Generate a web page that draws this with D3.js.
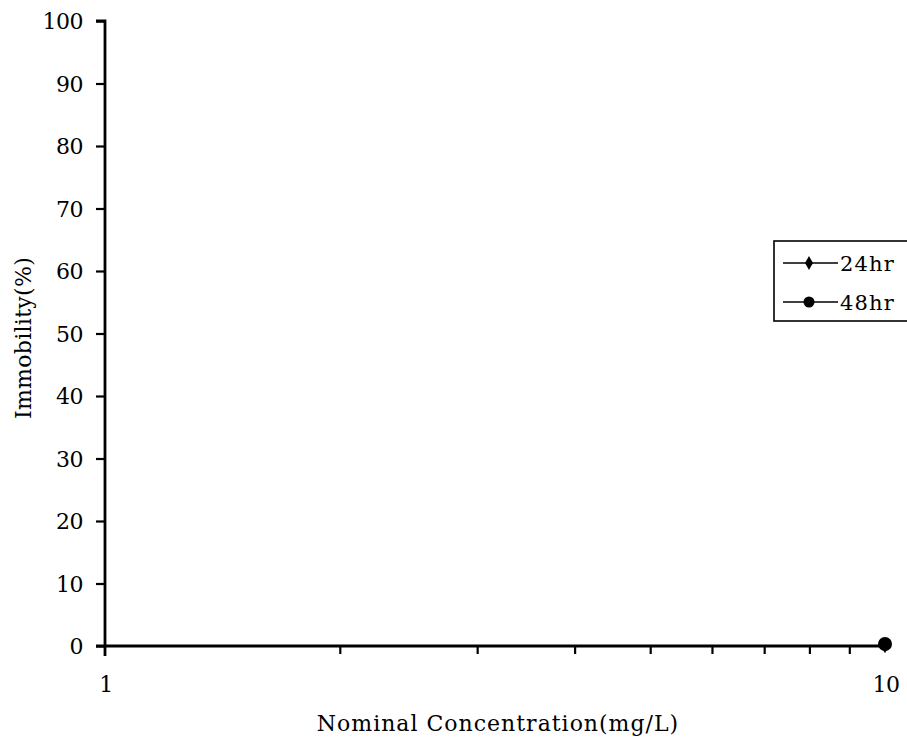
<!DOCTYPE html>
<html>
<head>
<meta charset="utf-8">
<script src="https://cdn.jsdelivr.net/npm/d3@7"></script>
<style>
  body { margin: 0; background: #fff; }
  svg text { font-family: "DejaVu Serif", "Liberation Serif", serif; fill: #000; }
</style>
</head>
<body>
<div id="chart"></div>
<script>
// data
const seriesNames = ["24hr", "48hr"];
const conc24 = [10];
const imm24 = [0];
const conc48 = [10];
const imm48 = [0];
const yTicks = [0, 10, 20, 30, 40, 50, 60, 70, 80, 90, 100];
const xLabels = [1, 10];
const xMinor = [2, 3, 4, 5, 6, 7, 8, 9];

let width = 907, height = 748;
let margin = {top: 21, right: 22, bottom: 102, left: 105};

let svg = d3.select("#chart").append("svg")
    .attr("width", width)
    .attr("height", height);

let xScale = d3.scaleLog()
    .domain([1, 10])
    .range([margin.left, width - margin.right]);

let yScale = d3.scaleLinear()
    .domain([0, 100])
    .range([height - margin.bottom, margin.top]);

// y axis
let yAxis = d3.axisLeft(yScale).tickValues(yTicks).tickSize(9).tickPadding(13).tickFormat(d3.format("d"));
svg.append("g")
    .attr("transform", `translate(${margin.left},0)`)
    .call(yAxis)
    .call(g => g.select(".domain").attr("stroke-width", 2.8).attr("d", `M-9,${yScale(100)}H0V${yScale(0) + 10}`))
    .call(g => g.selectAll(".tick line").attr("stroke-width", 2.2))
    .call(g => g.selectAll(".tick text").attr("font-size", 22).attr("letter-spacing", -0.5).attr("dy", "0.36em"));

// x axis
let xAxis = d3.axisBottom(xScale).tickValues(xMinor).tickSize(8).tickFormat("");
svg.append("g")
    .attr("transform", `translate(0,${yScale(0)})`)
    .call(xAxis)
    .call(g => g.select(".domain").attr("stroke-width", 3).attr("d", `M${margin.left - 9},0H${xScale(10)}`))
    .call(g => g.selectAll(".tick line").attr("stroke-width", 2.2));

svg.append("g")
    .selectAll("text")
    .data(xLabels)
    .join("text")
    .attr("x", d => xScale(d) + 1)
    .attr("y", yScale(0) + 46)
    .attr("text-anchor", "middle")
    .attr("font-size", 22)
    .attr("letter-spacing", -0.5)
    .text(d => d);

// axis titles
svg.append("text")
    .attr("x", 498)
    .attr("y", 731)
    .attr("text-anchor", "middle")
    .attr("font-size", 22)
    .attr("letter-spacing", 1)
    .text("Nominal Concentration(mg/L)");

svg.append("text")
    .attr("transform", `translate(31,338) rotate(-90)`)
    .attr("text-anchor", "middle")
    .attr("font-size", 22)
    .attr("letter-spacing", 0.3)
    .text("Immobility(%)");

// series
let line = d3.line().x(d => xScale(d[0])).y(d => yScale(d[1]));
let s24 = conc24.map((c, i) => [c, imm24[i]]);
let s48 = conc48.map((c, i) => [c, imm48[i]]);

svg.append("path").datum(s24).attr("d", line).attr("fill", "none").attr("stroke", "#000").attr("stroke-width", 2);
svg.append("path").datum(s48).attr("d", line).attr("fill", "none").attr("stroke", "#000").attr("stroke-width", 2);

svg.selectAll(".m24")
    .data(s24)
    .join("path")
    .attr("class", "m24")
    .attr("transform", d => `translate(${xScale(d[0])},${yScale(d[1])})`)
    .attr("d", d3.symbol(d3.symbolDiamond, 60))
    .attr("fill", "#000");

svg.selectAll(".m48")
    .data(s48)
    .join("circle")
    .attr("class", "m48")
    .attr("cx", d => xScale(d[0]))
    .attr("cy", d => yScale(d[1]) - 2)
    .attr("r", 7)
    .attr("fill", "#000");

// legend
let legend = svg.append("g").attr("transform", "translate(774,241)");
legend.append("rect")
    .attr("x", 0).attr("y", 0)
    .attr("width", 140).attr("height", 80)
    .attr("fill", "#fff")
    .attr("stroke", "#000")
    .attr("stroke-width", 1.6);

let item = legend.selectAll(".item")
    .data(seriesNames)
    .join("g")
    .attr("class", "item")
    .attr("transform", (d, i) => `translate(0,${22 + i * 39})`);

item.append("line")
    .attr("x1", 9).attr("x2", 64)
    .attr("stroke", "#000").attr("stroke-width", 1.6);

item.filter((d, i) => i === 0).append("path")
    .attr("transform", "translate(35,0)")
    .attr("d", d3.symbol(d3.symbolDiamond, 55))
    .attr("fill", "#000");

item.filter((d, i) => i === 1).append("circle")
    .attr("cx", 35).attr("r", 5.5)
    .attr("fill", "#000");

item.append("text")
    .attr("x", 66)
    .attr("dy", "0.36em")
    .attr("font-size", 21)
    .attr("letter-spacing", 1.2)
    .text(d => d);
</script>
</body>
</html>
